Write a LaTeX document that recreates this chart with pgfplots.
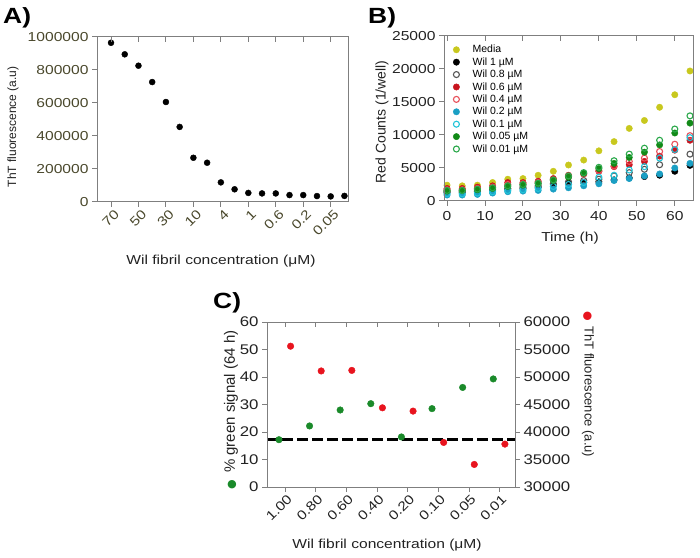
\documentclass[border=0pt]{standalone}
\usepackage{fontspec}
\setmainfont{Liberation Sans}[FakeStretch=1.2]
\newfontfamily\vfont{Liberation Sans}
\newfontfamily\djv{DejaVu Sans}
\usepackage{pgfplots}
\pgfplotsset{compat=1.18}
\definecolor{axgray}{HTML}{7F7F7F}
\definecolor{olivetick}{HTML}{4A482C}
\definecolor{txt}{HTML}{222222}
\definecolor{cmedia}{HTML}{C8C81E}
\definecolor{cgray}{HTML}{555555}
\definecolor{cred}{HTML}{C8141E}
\definecolor{cred2}{HTML}{E8505A}
\definecolor{cteal}{HTML}{1A9FC4}
\definecolor{ccyan}{HTML}{22C4D8}
\definecolor{cgreen}{HTML}{128A18}
\definecolor{cgreen2}{HTML}{2AA84A}
\definecolor{Cgreen}{HTML}{1A8A2A}
\definecolor{Cred}{HTML}{E8141E}
\pgfplotsset{
  common/.style={
    scale only axis, clip=false,
    axis line style={axgray, line width=1pt},
    tick style={axgray, line width=1pt},
    major tick length=5pt, tick align=outside,
    minor tick num=0,
    /pgf/number format/fixed,
    /pgf/number format/assume math mode=true,
    /pgf/number format/1000 sep={},
    scaled y ticks=false, scaled x ticks=false,
    ticklabel style={font=\fontsize{13}{15}\selectfont, color=txt},
    label style={color=txt},
  },
  topticks/.style={
    common, xtick pos=right, tick align=inside, ytick=\empty, xticklabels={},
  },
}
\begin{document}
\begin{tikzpicture}
\useasboundingbox (0pt,0pt) rectangle (700pt,557pt);
% ---------------- Panel A ----------------
\node[anchor=north west, inner sep=0pt, font=\fontsize{22}{24}\selectfont\bfseries] at (3pt,550pt) {A)};
\begin{axis}[common, at={(97pt,355pt)}, anchor=south west, width=251pt, height=165pt,
  xmin=-1.02, xmax=17.26, ymin=0, ymax=1000000,
  xtick={0,2,4,6,8,10,12,14,16}, xticklabels={70,50,30,10,4,1,0.6,0.2,0.05},
  ytick={0,200000,400000,600000,800000,1000000},
  xtick pos=left, ytick pos=left,
  ticklabel style={color=olivetick},
  xticklabel style={rotate=45, anchor=north east, inner sep=0pt, xshift=0.5pt, yshift=-3pt},
  xlabel={Wil fibril concentration (μM)},
  xlabel style={at={(axis description cs:0.494,-0.358)}, anchor=center, font=\fontsize{13}{15}\selectfont},
  ylabel={ThT fluorescence (a.u)},
  ylabel style={at={(axis description cs:-0.335,0.455)}, anchor=center, font=\vfont\fontsize{12}{14}\selectfont},
]
\addplot[only marks, mark=*, mark size=3pt, black] coordinates {
(0,965000) (1,895000) (2,826000) (3,727000) (4,606000) (5,455000)
(6,268000) (7,238000) (8,119000) (9,77000) (10,55000) (11,52000)
(12,52000) (13,42000) (14,42000) (15,36000) (16,34000) (17,37000)};
\end{axis}
\begin{axis}[topticks, at={(97pt,355pt)}, anchor=south west, width=251pt, height=165pt,
  xmin=-1.02, xmax=17.26, ymin=0, ymax=1, xtick={0,2,4,6,8,10,12,14,16}]
\end{axis}
% ---------------- Panel B ----------------
\node[anchor=north west, inner sep=0pt, font=\fontsize{22}{24}\selectfont\bfseries] at (368pt,550pt) {B)};
\begin{axis}[common, at={(444pt,356pt)}, anchor=south west, width=249pt, height=165pt,
  xmin=-0.8, xmax=64.8, ymin=0, ymax=25000,
  xtick={0,10,20,30,40,50,60}, ytick={0,5000,10000,15000,20000,25000},
  xtick pos=left, ytick pos=left,
  xticklabel style={yshift=-2pt},
  xlabel={Time (h)},
  xlabel style={at={(axis description cs:0.506,-0.224)}, anchor=center, font=\fontsize{13}{15}\selectfont},
  ylabel={Red Counts (1/well)},
  ylabel style={at={(axis description cs:-0.249,0.479)}, anchor=center, font=\vfont\fontsize{14}{16}\selectfont},
  legend style={at={(axis description cs:0,1)}, anchor=north west, xshift=9pt, yshift=-8pt,
    draw=none, fill=none, inner sep=0pt, row sep=1.3pt, column sep=12pt,
    font=\vfont\fontsize{10.5}{11}\selectfont, nodes={inner sep=1pt}},
  legend cell align=left,
]
\addplot[only marks, mark=*, mark size=3.2pt, cmedia] coordinates {
(0,2400)(4,2300)(8,2400)(12,2800)(16,3300)(20,3400)(24,3900)(28,4500)(32,5450)(36,6200)(40,7600)(44,9000)(48,11000)(52,12200)(56,14200)(60,16100)(64,19700)};
\addlegendentry{Media}
\addplot[only marks, mark=*, mark size=3.2pt, black] coordinates {
(0,1300)(4,1300)(8,1400)(12,1600)(16,1800)(20,1900)(24,2100)(28,2500)(32,2700)(36,2800)(40,2900)(44,3200)(48,3500)(52,3700)(56,3900)(60,4500)(64,5400)};
\addlegendentry{Wil 1 µM}
\addplot[only marks, mark=o, mark size=3pt, mark options={line width=1.1pt}, cgray] coordinates {
(0,1400)(4,1400)(8,1500)(12,1700)(16,1900)(20,2100)(24,2300)(28,2600)(32,2900)(36,3100)(40,3300)(44,3800)(48,4300)(52,4800)(56,5500)(60,6200)(64,7100)};
\addlegendentry{Wil 0.8 µM}
\addplot[only marks, mark=*, mark size=3.2pt, cred] coordinates {
(0,1900)(4,1900)(8,2100)(12,2300)(16,2800)(20,2800)(24,3000)(28,3400)(32,3900)(36,4100)(40,4500)(44,5200)(48,5500)(52,6000)(56,6800)(60,7700)(64,9200)};
\addlegendentry{Wil 0.6 µM}
\addplot[only marks, mark=o, mark size=3pt, mark options={line width=1.1pt}, cred2] coordinates {
(0,1700)(4,1700)(8,1900)(12,2100)(16,2500)(20,2600)(24,2800)(28,3200)(32,3700)(36,4100)(40,4600)(44,5300)(48,6000)(52,6500)(56,7500)(60,8600)(64,9900)};
\addlegendentry{Wil 0.4 µM}
\addplot[only marks, mark=*, mark size=3.2pt, cteal] coordinates {
(0,900)(4,900)(8,1000)(12,1200)(16,1400)(20,1500)(24,1600)(28,1800)(32,2000)(36,2300)(40,2600)(44,3100)(48,3400)(52,3800)(56,4100)(60,5000)(64,5700)};
\addlegendentry{Wil 0.2 µM}
\addplot[only marks, mark=o, mark size=3pt, mark options={line width=1.1pt}, ccyan] coordinates {
(0,1100)(4,1100)(8,1200)(12,1400)(16,1600)(20,1700)(24,1900)(28,2200)(32,2500)(36,2800)(40,3600)(44,3900)(48,4700)(52,5200)(56,6500)(60,7800)(64,9600)};
\addlegendentry{Wil 0.1 µM}
\addplot[only marks, mark=*, mark size=3.2pt, cgreen] coordinates {
(0,1500)(4,1600)(8,1700)(12,1900)(16,2200)(20,2400)(24,2600)(28,3100)(32,3600)(36,4200)(40,4900)(44,5700)(48,6600)(52,7400)(56,8500)(60,10300)(64,11800)};
\addlegendentry{Wil 0.05 µM}
\addplot[only marks, mark=o, mark size=3pt, mark options={line width=1.1pt}, cgreen2] coordinates {
(0,1600)(4,1600)(8,1800)(12,2000)(16,2300)(20,2500)(24,2700)(28,3200)(32,3800)(36,4300)(40,5100)(44,6100)(48,7100)(52,8000)(56,9200)(60,10900)(64,12900)};
\addlegendentry{Wil 0.01 µM}
\end{axis}
\begin{axis}[topticks, at={(444pt,356pt)}, anchor=south west, width=249pt, height=165pt,
  xmin=-0.8, xmax=64.8, ymin=0, ymax=1, xtick={0,10,20,30,40,50,60}]
\end{axis}
% ---------------- Panel C ----------------
\node[anchor=north west, inner sep=0pt, font=\fontsize{22}{24}\selectfont\bfseries] at (213pt,265pt) {C)};
\begin{axis}[common, at={(267pt,70pt)}, anchor=south west, width=248pt, height=165pt,
  xmin=-0.6, xmax=7.5, ymin=0, ymax=60,
  xtick={0,1,2,3,4,5,6,7}, xticklabels={1.00,0.80,0.60,0.40,0.20,0.10,0.05,0.01},
  ytick={0,10,20,30,40,50,60},
  xtick pos=left, ytick pos=left,
  yticklabel style={font=\fontsize{14}{16}\selectfont},
  xticklabel style={rotate=45, anchor=north east, inner sep=0pt, xshift=-0.5pt, yshift=-2pt},
  xlabel={Wil fibril concentration (μM)},
  xlabel style={at={(axis description cs:0.484,-0.352)}, anchor=center, font=\fontsize{13}{15}\selectfont},
  ylabel={{\djv\fontsize{11}{12}\selectfont\textcolor{Cgreen}{●}}\hspace{7pt}\% green signal (64 h)},
  ylabel style={at={(axis description cs:-0.145,0.467)}, anchor=center, font=\vfont\fontsize{15}{17}\selectfont},
]
\addplot[black, line width=2.2pt, dash pattern=on 11pt off 4pt] coordinates {(-0.6,17.3) (7.5,17.3)};
\addplot[only marks, mark=*, mark size=3.3pt, Cgreen] coordinates {
(-0.21,17.2) (0.79,22.2) (1.79,28.0) (2.79,30.3) (3.79,18.2) (4.79,28.5) (5.79,36.2) (6.79,39.3)};
\end{axis}
\begin{axis}[common, at={(267pt,70pt)}, anchor=south west, width=248pt, height=165pt,
  xmin=-0.6, xmax=7.5, ymin=30000, ymax=60000,
  xtick=\empty, ytick={30000,35000,40000,45000,50000,55000,60000},
  ytick pos=right, yticklabel pos=right,
  yticklabel style={font=\fontsize{14}{16}\selectfont},
  ylabel={{\djv\fontsize{11}{12}\selectfont\textcolor{Cred}{●}}\hspace{5pt}ThT fluorescence (a.u)},
  ylabel style={at={(axis description cs:1.294,0.621)}, anchor=center, rotate=180, font=\vfont\fontsize{13}{15}\selectfont},
]
\addplot[only marks, mark=*, mark size=3.3pt, Cred] coordinates {
(0.17,55600) (1.17,51100) (2.17,51200) (3.17,44400) (4.17,43800) (5.17,38100) (6.17,34100) (7.17,37800)};
\end{axis}
\begin{axis}[topticks, at={(267pt,70pt)}, anchor=south west, width=248pt, height=165pt,
  xmin=-0.6, xmax=7.5, ymin=0, ymax=1, xtick={0,1,2,3,4,5,6,7}]
\end{axis}
\end{tikzpicture}
\end{document}
